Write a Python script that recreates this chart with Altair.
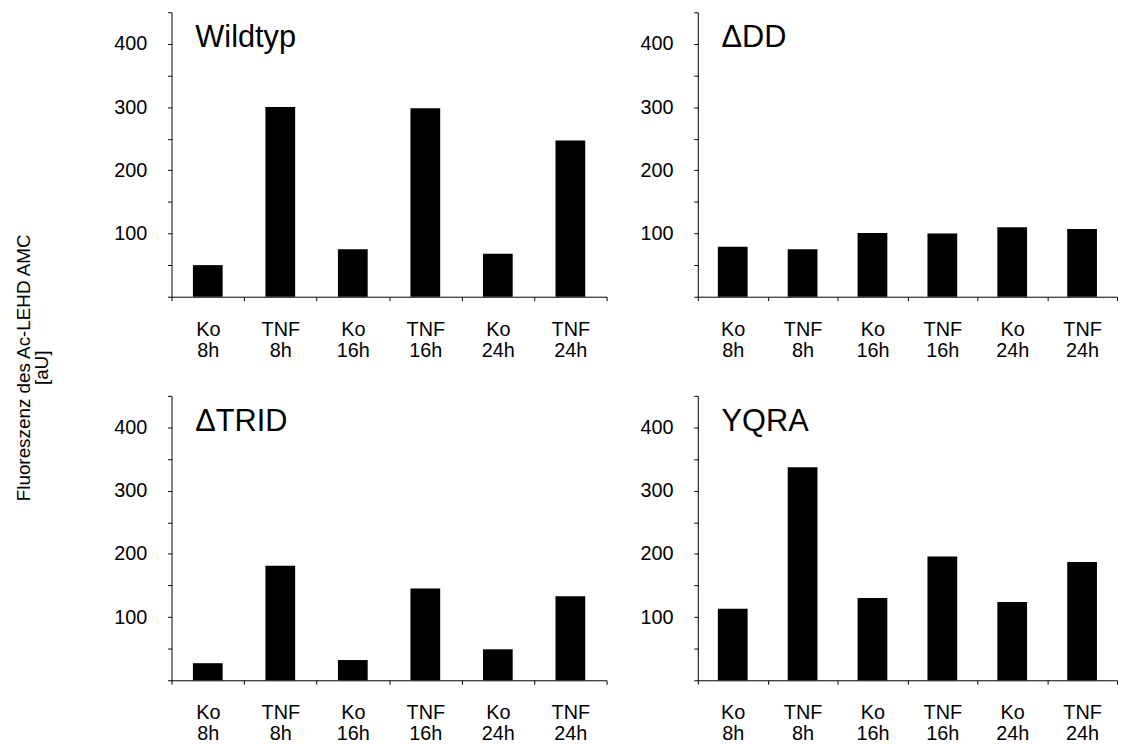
import altair as alt
import pandas as pd

# ---- data ----
treatment = ["Ko", "TNF", "Ko", "TNF", "Ko", "TNF"]
timepoint = ["8h", "8h", "16h", "16h", "24h", "24h"]
panel_names = ["Wildtyp", "ΔDD", "ΔTRID", "YQRA"]
wildtyp = [50, 300, 75, 298, 68, 247]
delta_dd = [79, 75, 101, 100, 110, 107]
delta_trid = [27, 181, 32, 145, 49, 133]
yqra = [113, 337, 130, 196, 124, 187]
y_ticks = [0, 50, 100, 150, 200, 250, 300, 350, 400, 450]
y_title = ["Fluoreszenz des Ac-LEHD AMC", "[aU]"]

FONT = "Liberation Sans"
cats = [f"{t}\n{h}" for t, h in zip(treatment, timepoint)]


def panel(name, values, width):
    df = pd.DataFrame({"cond": cats, "value": values})
    bars = alt.Chart(df).mark_bar(color="black", size=30).encode(
        x=alt.X(
            "cond:N",
            sort=cats,
            scale=alt.Scale(paddingInner=0, paddingOuter=0),
            axis=alt.Axis(
                title=None,
                labelAngle=0,
                tickBand="extent",
                labelExpr="split(datum.label, '\\n')",
                labelFontSize=20,
                labelLineHeight=21,
                labelPadding=19,
                tickSize=4,
            ),
        ),
        y=alt.Y(
            "value:Q",
            scale=alt.Scale(domain=[0, 450], nice=False),
            axis=alt.Axis(
                title=None,
                values=y_ticks,
                labelExpr="datum.value % 100 == 0 && datum.value > 0 ? datum.label : ''",
                labelFontSize=20,
                labelPadding=21,
                tickSize=4,
            ),
        ),
    )
    title = alt.Chart(pd.DataFrame({"name": [name]})).mark_text(
        align="left", baseline="alphabetic", fontSize=31, font=FONT, color="black"
    ).encode(text="name:N", x=alt.value(24), y=alt.value(35))
    return alt.layer(bars, title).properties(width=width, height=287)


top = alt.hconcat(
    panel(panel_names[0], wildtyp, 439), panel(panel_names[1], delta_dd, 423), spacing=32
)
bottom = alt.hconcat(
    panel(panel_names[2], delta_trid, 439), panel(panel_names[3], yqra, 423), spacing=32
)

chart = (
    alt.vconcat(top, bottom, spacing=35)
    .properties(
        title=alt.TitleParams(
            y_title,
            orient="left",
            anchor="middle",
            fontSize=19,
            lineHeight=18,
            font=FONT,
            fontWeight="normal",
            color="black",
            offset=62,
            dx=10,
        ),
        padding={"left": 7, "top": 0, "right": 0, "bottom": 0},
    )
    .configure_view(stroke=None)
    .configure_axis(
        grid=False,
        labelFont=FONT,
        labelColor="black",
        domainColor="black",
        tickColor="black",
        domainWidth=1,
        tickWidth=1,
    )
)

chart.save("out.html", embed_options={"renderer": "svg", "actions": False})
